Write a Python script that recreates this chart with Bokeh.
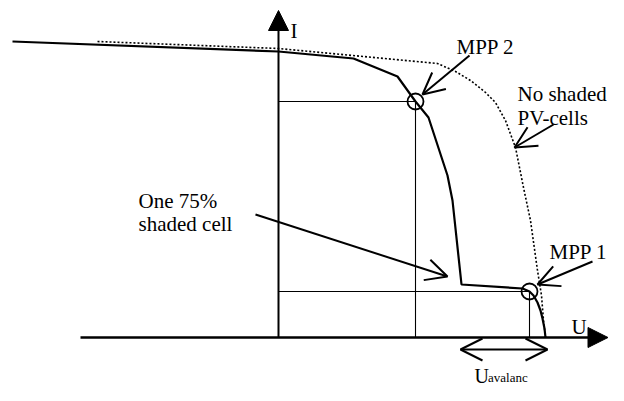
from bokeh.plotting import figure
from bokeh.models import Range1d, Arrow, NormalHead, OpenHead, ColumnDataSource
from bokeh.core.properties import value
from bokeh.embed import file_html
from bokeh.resources import INLINE

# ---- data (U in V, I in A; schematic I-U curves of a PV string) ----
u_shaded = [-26.6, 0.0, 7.5, 11.9, 13.7, 15.0, 16.9, 17.4, 18.3, 24.4, 25.1, 25.5, 25.9, 26.2, 26.4, 26.6, 26.7]
i_shaded = [5.92, 5.72, 5.58, 5.22, 4.72, 4.40, 3.24, 2.74, 1.06, 0.98, 0.92, 0.84, 0.70, 0.54, 0.38, 0.18, 0.0]

u_clear = [-18.1, 0.0, 15.9, 17.7, 19.2, 20.7, 21.7, 22.7, 23.7, 24.5, 25.2, 25.9, 26.3, 26.5, 26.7]
i_clear = [5.92, 5.78, 5.48, 5.32, 5.14, 4.90, 4.70, 4.34, 3.80, 3.00, 2.34, 1.34, 0.84, 0.34, 0.0]

mpp_names = ["MPP 2", "MPP 1"]
mpp_u = [13.7, 25.1]
mpp_i = [4.72, 0.92]

# axis extents
u_axis = [-19.8, 32.95]
i_axis = [0.0, 6.54]

# annotation pointers: tail -> tip
ann_labels = ["MPP 2", "No shaded PV-cells", "One 75% shaded cell", "MPP 1"]
ann_u0 = [19.1, 27.5, -2.3, 31.4]
ann_i0 = [5.64, 4.26, 2.46, 1.52]
ann_u1 = [14.4, 23.6, 16.9, 25.9]
ann_i1 = [4.86, 3.80, 1.22, 1.06]

# avalanche voltage span
aval_u = [18.2, 26.9]
aval_i = -0.24

# text labels
txt = ["I", "MPP 2", "No shaded", "PV-cells", "One 75%", "shaded cell", "MPP 1", "U"]
txt_u = [1.2, 17.8, 23.9, 23.9, -14.0, -14.0, 27.1, 29.3]
txt_i = [6.14, 5.82, 4.88, 4.40, 2.74, 2.28, 1.72, 0.22]
aval_main = ["U"]
aval_main_u = [19.6]
aval_main_i = [-0.76]
sub_txt = ["avalanc"]
sub_u = [20.95]
sub_i = [-0.80]

FONT = value("Liberation Serif")

p = figure(width=608, height=385, output_backend="svg", toolbar_location=None,
           x_range=Range1d(-27.8, 33.0), y_range=Range1d(-0.96, 6.74),
           x_axis_type=None, y_axis_type=None, min_border=0,
           min_border_left=0, min_border_right=0, min_border_top=0, min_border_bottom=0)
p.outline_line_color = None
p.grid.visible = False
p.background_fill_color = "white"
p.border_fill_color = "white"

# MPP guide rectangles
p.segment(x0=[0.0] * len(mpp_u), y0=mpp_i, x1=mpp_u, y1=mpp_i, line_color="black", line_width=1.1)
p.segment(x0=mpp_u, y0=[0.0] * len(mpp_u), x1=mpp_u, y1=mpp_i, line_color="black", line_width=1.1)

# axes with filled arrowheads
p.add_layout(Arrow(end=NormalHead(size=20, fill_color="black", line_color="black", line_width=1),
                   x_start=u_axis[0], y_start=0, x_end=u_axis[1], y_end=0,
                   line_color="black", line_width=2.6))
p.add_layout(Arrow(end=NormalHead(size=20, fill_color="black", line_color="black", line_width=1),
                   x_start=0, y_start=i_axis[0], x_end=0, y_end=i_axis[1],
                   line_color="black", line_width=2))

# curves
p.line(u_clear, i_clear, line_color="black", line_width=1.6, line_dash="2 2")
p.line(u_shaded, i_shaded, line_color="black", line_width=2.2)

# MPP circles
p.scatter(mpp_u, mpp_i, marker="circle", size=16, fill_color=None, line_color="black", line_width=1.8)

# annotation arrows
src = ColumnDataSource(dict(x0=ann_u0, y0=ann_i0, x1=ann_u1, y1=ann_i1))
p.add_layout(Arrow(end=OpenHead(size=21.5, line_color="black", line_width=2),
                   source=src, x_start="x0", y_start="y0", x_end="x1", y_end="y1",
                   line_color="black", line_width=2))

# double arrow for avalanche voltage
p.add_layout(Arrow(start=OpenHead(size=22, line_color="black", line_width=2),
                   end=OpenHead(size=22, line_color="black", line_width=2),
                   x_start=aval_u[0], y_start=aval_i, x_end=aval_u[1], y_end=aval_i,
                   line_color="black", line_width=2))

# texts
p.text(txt_u, txt_i, text=txt, text_font=FONT, text_font_size="21px",
       text_align="left", text_baseline="alphabetic", text_color="black")
p.text(aval_main_u, aval_main_i, text=aval_main, text_font=FONT, text_font_size="20px",
       text_align="left", text_baseline="alphabetic", text_color="black")
p.text(sub_u, sub_i, text=sub_txt, text_font=FONT, text_font_size="13px",
       text_align="left", text_baseline="alphabetic", text_color="black")

open("out.html", "w").write(file_html(p, INLINE))
